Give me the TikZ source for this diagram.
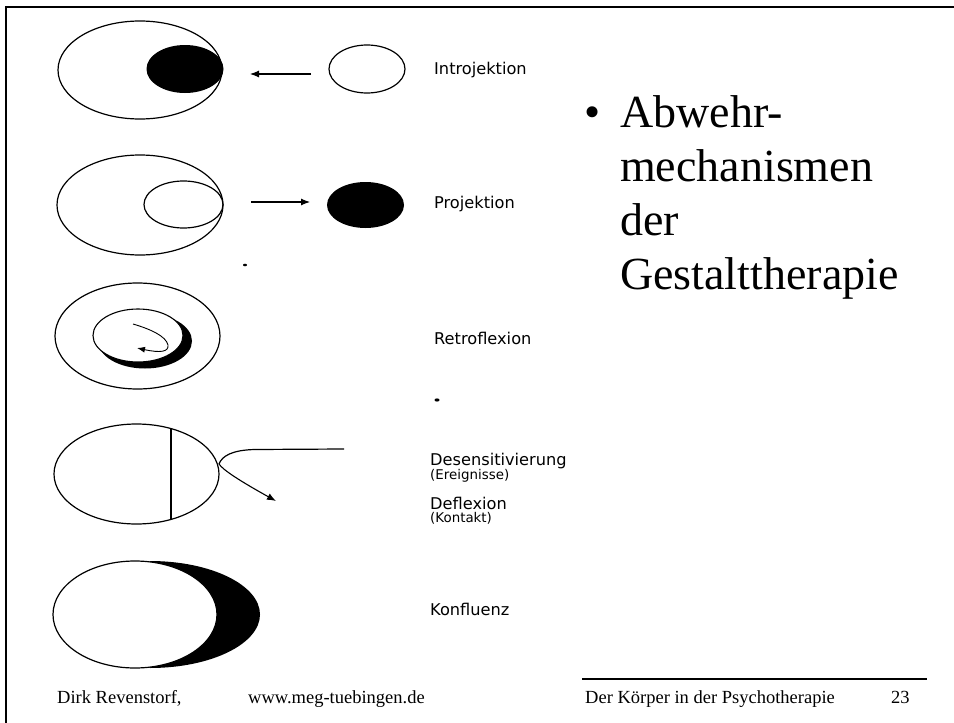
\documentclass[tikz,border=0pt]{standalone}
\usepackage{fontspec}
\setmainfont{Liberation Serif}
\newfontfamily\labelfont{DejaVu Sans}
\usetikzlibrary{arrows.meta}
\tikzset{
  outline/.style={draw=black, line width=1.2pt},
  frameline/.style={draw=black, line width=2.2pt},
  arr/.style={draw=black, line width=1.1pt, -{Latex[length=9pt,width=7pt]}},
  lbl/.style={anchor=west, inner sep=0pt, font=\labelfont\fontsize{16.2}{19}\selectfont},
  sublbl/.style={anchor=west, inner sep=0pt, font=\labelfont\fontsize{13.4}{16}\selectfont},
  title/.style={anchor=base west, inner sep=0pt, font=\fontsize{46}{50}\selectfont},
  foot/.style={anchor=base west, inner sep=0pt, font=\fontsize{18.5}{22}\selectfont},
}
\begin{document}
\begin{tikzpicture}[x=1pt,y=-1pt]
\useasboundingbox (0,0) rectangle (954,723);
\fill[white] (0,0) rectangle (954,723);
% frame
\coordinate (fTL) at (6,7);
\coordinate (fTR) at (954,7);
\coordinate (fBL) at (6,723);
\draw[frameline] (fTR) -- (fTL) -- (fBL);

% ---------- 1: Introjektion
\draw[outline] (140,70) ellipse [x radius=82pt, y radius=49pt];
\fill[black] (185,69) ellipse [x radius=38.5pt, y radius=24pt];
\draw[outline] (367,69) ellipse [x radius=38pt, y radius=24pt];
\coordinate (a1s) at (311,74);
\coordinate (a1e) at (250,74);
\draw[arr] (a1s) -- (a1e);
\node[lbl] (l1) at (434,70) {Introjektion};

% ---------- 2: Projektion
\draw[outline] (140,205) ellipse [x radius=83pt, y radius=50pt];
\draw[outline] (183.5,204.5) ellipse [x radius=39.5pt, y radius=23.5pt];
\fill[black] (365.5,205) ellipse [x radius=38.5pt, y radius=23pt];
\coordinate (a2s) at (251,202);
\coordinate (a2e) at (310,202);
\draw[arr] (a2s) -- (a2e);
\node[lbl] (l2) at (434,204) {Projektion};

% speck
\fill[black] (245,265) ellipse [x radius=2pt, y radius=1.3pt];

% ---------- 3: Retroflexion
\draw[outline] (137.5,336) ellipse [x radius=82.5pt, y radius=53pt];
\fill[black] (145,341) ellipse [x radius=47pt, y radius=27.5pt];
\filldraw[fill=white, draw=black, line width=1.1pt] (138,335.5) ellipse [x radius=45pt, y radius=26.5pt];
\coordinate (s3a) at (133,324);
\coordinate (s3b) at (137,348);
\draw[line width=0.9pt, -{Latex[length=8pt,width=6pt]}] (s3a) .. controls (150,329) and (166,336) .. (168,345)
   .. controls (169,352) and (160,353) .. (s3b);
\node[lbl] (l3) at (434,338) {Retroflexion};

% speck
\fill[black] (437,400) ellipse [x radius=2.5pt, y radius=1.6pt];

% ---------- 4: Desensitivierung / Deflexion
\draw[outline] (136.5,474) ellipse [x radius=82.5pt, y radius=50pt];
\coordinate (c4t) at (171,428.6);
\coordinate (c4b) at (171,519.4);
\draw[outline] (c4t) -- (c4b);
\coordinate (cusp) at (219,464);
\coordinate (c4s) at (344,449);
\coordinate (c4e) at (276,501);
\draw[outline] (c4s) -- (255,449.5) .. controls (232,450) and (222,456) .. (cusp);
\draw[arr] (cusp) .. controls (223,470) and (240,481) .. (c4e);
\node[lbl] (l4a) at (430,461) {Desensitivierung};
\node[sublbl] (l4b) at (430,476) {(Ereignisse)};
\node[lbl] (l4c) at (430,503) {Deflexion};
\node[sublbl] (l4d) at (430,518) {(Kontakt)};

% ---------- 5: Konfluenz
\begin{scope}
\clip (150,540) rectangle (280,690);
\fill[black] (150,614.5) ellipse [x radius=110pt, y radius=53.5pt];
\end{scope}
\filldraw[fill=white, draw=black, line width=1.2pt] (135,614.5) ellipse [x radius=82pt, y radius=53.5pt];
\node[lbl] (l5) at (430,609) {Konfluenz};

% ---------- title
\node[title] (bul) at (584,127) {\textbullet};
\node[title] (t1) at (620,127) {Abwehr-};
\node[title] (t2) at (620,181) {mechanismen};
\node[title] (t3) at (620,235) {der};
\node[title] (t4) at (620,289) {Gestalttherapie};

% ---------- footer
\coordinate (fl1) at (582,679);
\coordinate (fl2) at (927,679);
\draw[line width=1.3pt] (fl1) -- (fl2);
\node[foot] (f1) at (57,703) {Dirk Revenstorf,};
\node[foot] (f2) at (248,703) {www.meg-tuebingen.de};
\node[foot] (f3) at (585,703) {Der Körper in der Psychotherapie};
\node[foot] (f4) at (891,703) {23};
\end{tikzpicture}
\end{document}
